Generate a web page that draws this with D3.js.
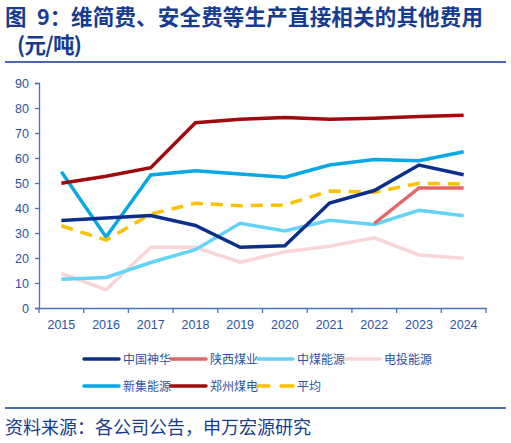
<!DOCTYPE html>
<html>
<head>
<meta charset="utf-8">
<script src="https://cdn.jsdelivr.net/npm/d3@7.9.0/dist/d3.min.js"></script>
<style>
  body { margin: 0; background: #fff; }
  svg { display: block; }
</style>
</head>
<body>
<svg id="chart" width="511" height="443"></svg>
<script>
const years = ['2015', '2016', '2017', '2018', '2019', '2020', '2021', '2022', '2023', '2024'];

const shenhua   = [35, 36, 37, 33, 24.3, 24.9, 42, 47, 57.2, 53.3];
const shaanxi   = [null, null, null, null, null, null, null, 33.8, 48, 48];
const zhongmei  = [11.5, 12.2, 18.2, 23.3, 33.9, 30.8, 35.1, 33.4, 39.1, 36.9];
const diantou   = [13.8, 7.3, 24.3, 24.3, 18.3, 22.5, 24.7, 28.1, 21.2, 19.9];
const xinji     = [54.5, 28.4, 53.2, 54.9, 53.6, 52.3, 57.2, 59.4, 58.9, 62.5];
const zhengzhou = [49.9, 52.7, 56.1, 74.1, 75.5, 76.2, 75.5, 75.9, 76.6, 77.1];
const average   = [32.9, 27.2, 37.6, 41.9, 40.9, 41.2, 46.8, 46.3, 49.9, 49.6];

const yTicks = [0, 10, 20, 30, 40, 50, 60, 70, 80, 90];

// draw order: back to front
const series = [
    { name: '电投能源', values: diantou,   color: '#f9d5d8', dash: null },
    { name: '中煤能源', values: zhongmei,  color: '#63d3f7', dash: null },
    { name: '陕西煤业', values: shaanxi,   color: '#e46668', dash: null },
    { name: '新集能源', values: xinji,     color: '#07a8e6', dash: null },
    { name: '郑州煤电', values: zhengzhou, color: '#9e0a0e', dash: null },
    { name: '平均',     values: average,   color: '#ffc000', dash: '12,8' },
    { name: '中国神华', values: shenhua,   color: '#0b2f8a', dash: null }
];
const legendOrder = ['中国神华', '陕西煤业', '中煤能源', '电投能源', '新集能源', '郑州煤电', '平均'];

const svg = d3.select('#chart');
const navy = '#163c8f';
const axisBlue = '#4a6fc4';
const labelBlue = '#2d52a3';
const cjk = '"Noto Sans CJK SC", sans-serif';

// title, pieces placed like the original's wide spacing
const title = svg.append('text')
    .attr('y', 25)
    .attr('font-family', cjk)
    .attr('font-weight', 'bold').attr('font-size', 21.5)
    .attr('fill', navy);
title.append('tspan').attr('x', 5).text('图');
title.append('tspan').attr('x', 37).text('9：');
title.append('tspan').attr('x', 71)
    .attr('textLength', 412).attr('lengthAdjust', 'spacing')
    .text('维简费、安全费等生产直接相关的其他费用');
svg.append('text')
    .attr('x', 17).attr('y', 53)
    .attr('font-family', cjk)
    .attr('font-weight', 'bold').attr('font-size', 21.5)
    .attr('fill', navy)
    .attr('textLength', 65).attr('lengthAdjust', 'spacing')
    .text('(元/吨)');
svg.append('line')
    .attr('x1', 5).attr('x2', 506).attr('y1', 62).attr('y2', 62)
    .attr('stroke', '#0e3a95').attr('stroke-width', 1.5);

const plotLeft = 39, plotRight = 486, plotTop = 83, plotBottom = 308;

const x = d3.scaleBand().domain(years).range([plotLeft, plotRight]);
const y = d3.scaleLinear().domain([0, 90]).range([plotBottom, plotTop]);

const font = '"Liberation Sans Narrow", "Liberation Sans", Arial, sans-serif';

// y axis
const yAxis = svg.append('g')
    .attr('transform', `translate(${plotLeft},0)`)
    .call(d3.axisLeft(y).tickValues(yTicks).tickSize(4).tickPadding(6));
yAxis.select('.domain').attr('stroke', axisBlue).attr('stroke-width', 1.3);
yAxis.selectAll('.tick line').attr('stroke', axisBlue).attr('stroke-width', 1.3);
yAxis.selectAll('text').attr('font-family', font).attr('font-size', 12.5).attr('fill', labelBlue);

// x axis with ticks between categories
const xAxis = svg.append('g')
    .attr('transform', `translate(0,${plotBottom})`)
    .call(d3.axisBottom(x).tickSize(0).tickPadding(12));
xAxis.select('.domain').attr('stroke', axisBlue).attr('stroke-width', 1.3);
xAxis.selectAll('text').attr('font-family', font).attr('font-size', 12.5).attr('fill', labelBlue);
xAxis.selectAll('.sep')
    .data(years.concat(['end']))
    .join('line')
    .attr('class', 'sep')
    .attr('x1', (d, i) => plotLeft + i * x.step())
    .attr('x2', (d, i) => plotLeft + i * x.step())
    .attr('y1', 0).attr('y2', 5)
    .attr('stroke', axisBlue).attr('stroke-width', 1.3);

const line = d3.line()
    .defined(d => d != null)
    .x((d, i) => x(years[i]) + x.bandwidth() / 2)
    .y(d => y(d));

svg.append('g').selectAll('path')
    .data(series)
    .join('path')
    .attr('d', d => line(d.values))
    .attr('fill', 'none')
    .attr('stroke', d => d.color)
    .attr('stroke-width', 3.5)
    .attr('stroke-dasharray', d => d.dash)
    .attr('stroke-linejoin', 'miter');

// legend
const legendItems = legendOrder.map(n => series.find(s => s.name === n));
const legend = svg.append('g');
legendItems.forEach((s, i) => {
    const col = i < 4 ? i : i - 4;
    const row = i < 4 ? 0 : 1;
    const lx = 84 + col * 87;
    const ly = 359 + row * 27;
    if (s.dash) {
        legend.append('line')
            .attr('x1', lx).attr('x2', lx + 11).attr('y1', ly).attr('y2', ly)
            .attr('stroke', s.color).attr('stroke-width', 3.5).attr('stroke-linecap', 'round');
        legend.append('line')
            .attr('x1', lx + 23).attr('x2', lx + 35).attr('y1', ly).attr('y2', ly)
            .attr('stroke', s.color).attr('stroke-width', 3.5).attr('stroke-linecap', 'round');
    } else {
        legend.append('line')
            .attr('x1', lx).attr('x2', lx + 35).attr('y1', ly).attr('y2', ly)
            .attr('stroke', s.color).attr('stroke-width', 3.5).attr('stroke-linecap', 'round');
    }
    legend.append('text')
        .attr('x', lx + 39).attr('y', ly + 5)
        .attr('font-family', cjk)
        .attr('font-size', 12)
        .attr('fill', labelBlue)
        .text(s.name);
});

// footer
svg.append('line')
    .attr('x1', 5).attr('x2', 506).attr('y1', 408).attr('y2', 408)
    .attr('stroke', '#0e3a95').attr('stroke-width', 1.5);
svg.append('text')
    .attr('x', 5).attr('y', 434)
    .attr('font-family', cjk)
    .attr('font-size', 18)
    .attr('fill', navy)
    .text('资料来源：各公司公告，申万宏源研究');
</script>
</body>
</html>
